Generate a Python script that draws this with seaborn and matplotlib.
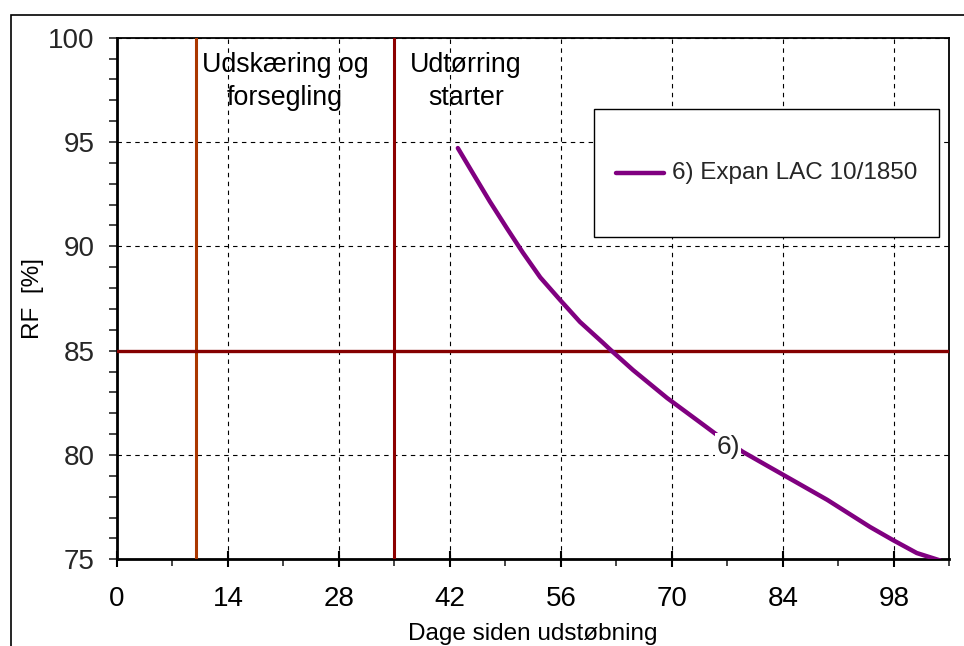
import numpy as np
import pandas as pd
import matplotlib
matplotlib.use("Agg")
import matplotlib.pyplot as plt
from matplotlib.patches import Rectangle
import seaborn as sns

# ---- data ----
days = [43.0, 44.9, 47.05, 49.2, 51.2, 53.4, 55.9, 58.4, 61.3, 62.2, 65.1, 69.4,
        73.5, 75.7, 79.0, 82.0, 83.9, 89.6, 95.0, 97.9, 100.9, 103.8]
rf = [94.71, 93.50, 92.14, 90.86, 89.70, 88.51, 87.43, 86.38, 85.38, 85.06, 84.07, 82.73,
      81.58, 80.96, 80.14, 79.49, 79.08, 77.85, 76.55, 75.92, 75.30, 74.95]
series_name = "6) Expan LAC 10/1850"
series_label = "6)"
event_days = [10, 35]
event_texts = ["Udskæring og\nforsegling", "Udtørring\nstarter"]
event_text_x = [21.2, 44.0]
rf_limit = 85
x_ticks = [0, 14, 28, 42, 56, 70, 84, 98]
y_ticks = [75, 80, 85, 90, 95, 100]

sns.set_theme(style="white")
plt.rcParams["font.family"] = ["Liberation Sans", "DejaVu Sans"]

W, H = 964, 646
fig = plt.figure(figsize=(W / 100, H / 100), dpi=100)
ax = fig.add_axes([117 / W, 1 - 559.3 / H, (949.3 - 117) / W, (559.3 - 37.7) / H])

# outer chart-area frame (cut by the image edges)
fig.patches.append(Rectangle((11 / W, -0.1), 1.2, 1 - 15 / H + 0.1, transform=fig.transFigure,
                             fill=False, edgecolor="black", linewidth=1.2, zorder=0))

df = pd.DataFrame({"Dage": days, "RF": rf, "serie": series_name})
sns.lineplot(data=df, x="Dage", y="RF", hue="serie", palette=["#800080"],
             linewidth=3.2, ax=ax, zorder=5, sort=False)

ax.set_xlim(0, 105)
ax.set_ylim(75, 100)

# grid
ax.set_xticks(x_ticks)
ax.set_xticks(np.arange(7, 106, 14), minor=True)
ax.set_yticks(y_ticks)
ax.set_yticks(np.arange(75, 101, 1), minor=True)
ax.grid(True, which="major", color="black", linestyle=(0, (4, 4)), linewidth=0.8)
ax.set_axisbelow(True)

# reference lines
ax.axvline(event_days[0], color="#AA3700", linewidth=2.2, zorder=3)
ax.axvline(event_days[1], color="#8C0000", linewidth=2.2, zorder=3)
ax.axhline(rf_limit, color="#850000", linewidth=2.4, zorder=3)

for tx, t in zip(event_text_x, event_texts):
    ax.text(tx, 99.31, t, ha="center", va="top", fontsize=19.3, linespacing=1.35,
            color="black", zorder=6)

ax.text(77.1, 80.4, series_label, ha="center", va="center", fontsize=19, zorder=7,
        bbox=dict(facecolor="white", edgecolor="none", pad=1.0))

# ticks
ax.tick_params(axis="x", which="major", direction="inout", length=12, width=1.5,
               labelsize=20, pad=13, colors="black", bottom=True)
ax.tick_params(axis="x", which="minor", direction="out", length=5, width=1.2, bottom=True)
ax.tick_params(axis="y", which="both", direction="out", length=6, width=1.2, left=True)
ax.tick_params(axis="y", which="major", labelsize=20, pad=10)
ax.set_xticklabels([str(v) for v in x_ticks])
ax.set_yticklabels([str(v) for v in y_ticks])

for s in ["left", "bottom"]:
    ax.spines[s].set_linewidth(2.0)
    ax.spines[s].set_color("black")
for s in ["top", "right"]:
    ax.spines[s].set_linewidth(1.3)
    ax.spines[s].set_color("black")

ax.set_xlabel("Dage siden udstøbning", fontsize=17.5, labelpad=8.5, color="black")
ax.set_ylabel("RF  [%]", fontsize=17.5, labelpad=3, color="black")

leg_fs = 17.5
leg_hh = 4.96
leg = ax.legend(loc="upper right", bbox_to_anchor=(0.9876, 0.8633), borderaxespad=0,
                fontsize=leg_fs, frameon=True, fancybox=False, borderpad=0.9,
                handlelength=2.0, handletextpad=0.3, handleheight=leg_hh)
leg.get_frame().set_edgecolor("black")
leg.get_frame().set_linewidth(1.0)
leg.get_frame().set_alpha(1)
shift = 0.35 * leg_fs * (leg_hh - 0.7) / 2
for l in leg.get_lines():
    l.set_linewidth(3.2)
    l.set_ydata(np.asarray(l.get_ydata()) - shift)

fig.savefig("out.png", dpi=100)
